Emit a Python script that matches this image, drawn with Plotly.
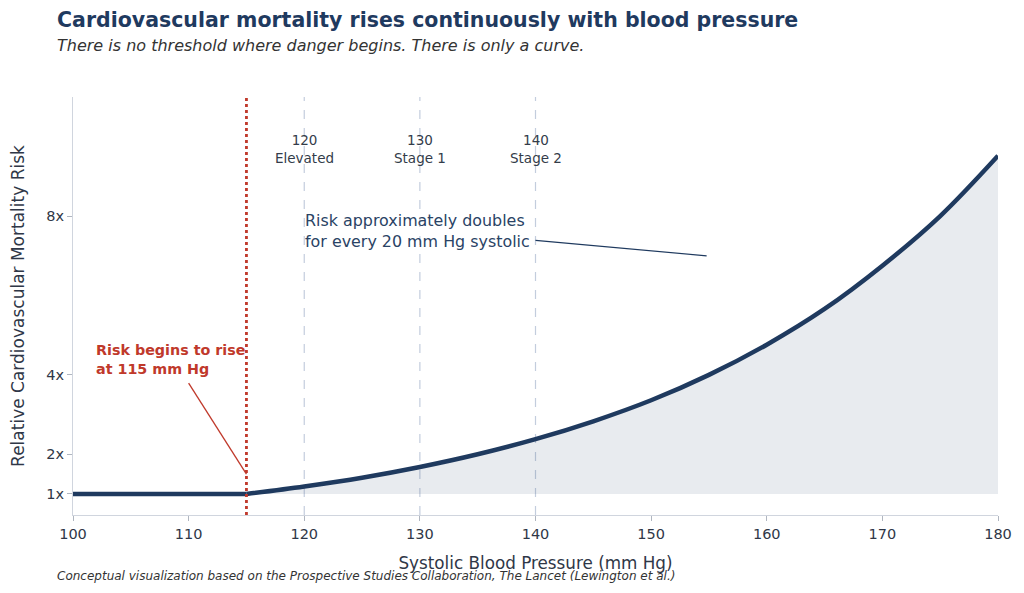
import plotly.graph_objects as go

# Data
flat_bp = [100, 105, 110, 115]
flat_risk = [1.0, 1.0, 1.0, 1.0]
rise_bp = [115, 120, 125, 130, 135, 140, 145, 150, 155, 160, 165, 170, 175, 180]
rise_risk = [1.0, 1.19, 1.41, 1.68, 2.0, 2.38, 2.83, 3.36, 4.0, 4.76, 5.66, 6.75, 8.0, 9.52]
stage_bp = [120, 130, 140]
stage_names = ["Elevated", "Stage 1", "Stage 2"]
y_ticks = [1, 2, 4, 8]
y_tick_labels = ["1x", "2x", "4x", "8x"]
x_ticks = [100, 110, 120, 130, 140, 150, 160, 170, 180]
threshold_bp = 115

NAVY = "#1f3a5f"
RED = "#c0392b"
TXT = "#2f3747"
FONT = "DejaVu Sans"

W, H = 1024, 593
ML, MR, MT, MB = 73, 26, 97, 78
PW, PH = W - ML - MR, H - MT - MB


def px(x):
    return (x - ML) / PW


def py(y):
    return (H - MB - y) / PH


fig = go.Figure()

# baseline for fill
fig.add_trace(go.Scatter(x=rise_bp, y=[1.0] * len(rise_bp), mode="lines",
                         line=dict(width=0, color="rgba(0,0,0,0)"),
                         hoverinfo="skip", showlegend=False))
fig.add_trace(go.Scatter(x=rise_bp, y=rise_risk, mode="lines",
                         line=dict(color=NAVY, width=4.5, shape="spline"),
                         fill="tonexty", fillcolor="rgba(31,58,95,0.10)",
                         showlegend=False))
fig.add_trace(go.Scatter(x=flat_bp, y=flat_risk, mode="lines",
                         line=dict(color=NAVY, width=4.5),
                         showlegend=False))

shapes = []
for bp in stage_bp:
    shapes.append(dict(type="line", xref="x", yref="paper", x0=bp, x1=bp, y0=0, y1=1,
                       line=dict(color="#c3cddd", width=1.2, dash="dash"), layer="below"))
shapes.append(dict(type="line", xref="x", yref="paper", x0=threshold_bp, x1=threshold_bp,
                   y0=0, y1=1, line=dict(color=RED, width=2.8, dash="dot")))
# annotation connectors
shapes.append(dict(type="line", xref="x", yref="y", x0=110.0, y0=3.79, x1=threshold_bp, y1=1.5,
                   line=dict(color=RED, width=1.3)))
shapes.append(dict(type="line", xref="x", yref="y", x0=140.0, y0=7.39, x1=154.8, y1=7.0,
                   line=dict(color=NAVY, width=1.3)))

annotations = []
for bp, name in zip(stage_bp, stage_names):
    annotations.append(dict(x=bp, y=py(149), xref="x", yref="paper", text=f"{bp}<br>{name}",
                            showarrow=False, xanchor="center", yanchor="middle",
                            font=dict(family=FONT, size=13.5, color="#333c4a")))
annotations.append(dict(x=101.85, y=4.38, xref="x", yref="y",
                        text="<b>Risk begins to rise<br>at 115 mm Hg</b>", showarrow=False,
                        xanchor="left", yanchor="middle", align="left",
                        font=dict(family=FONT, size=14.3, color=RED)))
annotations.append(dict(x=119.9, y=7.62, xref="x", yref="y",
                        text="Risk approximately doubles<br>for every 20 mm Hg systolic",
                        showarrow=False, xanchor="left", yanchor="middle", align="left",
                        font=dict(family=FONT, size=15.9, color="#2a4365")))
annotations += [
    dict(x=px(55), y=py(20), xref="paper", yref="paper", xanchor="left", yanchor="middle",
         text="<b>Cardiovascular mortality rises continuously with blood pressure</b>",
         font=dict(family=FONT, size=20.5, color=NAVY), showarrow=False),
    dict(x=px(55), y=py(45), xref="paper", yref="paper", xanchor="left", yanchor="middle",
         text="<i>There is no threshold where danger begins. There is only a curve.</i>",
         font=dict(family=FONT, size=16, color="#333333"), showarrow=False),
    dict(x=px(55), y=py(576), xref="paper", yref="paper", xanchor="left", yanchor="middle",
         text="<i>Conceptual visualization based on the Prospective Studies Collaboration, The Lancet (Lewington et al.)</i>",
         font=dict(family=FONT, size=12, color="#333333"), showarrow=False),
]

fig.update_layout(
    width=W, height=H,
    margin=dict(l=ML, r=MR, t=MT, b=MB),
    paper_bgcolor="white", plot_bgcolor="white",
    font=dict(family=FONT, color=TXT),
    shapes=shapes,
    annotations=annotations,
    showlegend=False,
    xaxis=dict(range=[100, 180], tickvals=x_ticks, showgrid=False, zeroline=False,
               showline=True, linecolor="#d0d5de", linewidth=1.2,
               ticks="outside", ticklen=5, tickcolor="#b0b6c0",
               tickfont=dict(family=FONT, size=14.5, color=TXT),
               title=dict(text="Systolic Blood Pressure (mm Hg)", standoff=16,
                          font=dict(family=FONT, size=16.8, color=TXT))),
    yaxis=dict(range=[0.47, 11.0], tickvals=y_ticks, ticktext=y_tick_labels,
               showgrid=False, zeroline=False,
               showline=True, linecolor="#d0d5de", linewidth=1.2,
               ticks="outside", ticklen=5, tickcolor="#b0b6c0",
               tickfont=dict(family=FONT, size=14.5, color=TXT),
               title=dict(text="Relative Cardiovascular Mortality Risk", standoff=17,
                          font=dict(family=FONT, size=17, color=TXT))),
)

fig.write_html("out.html")
